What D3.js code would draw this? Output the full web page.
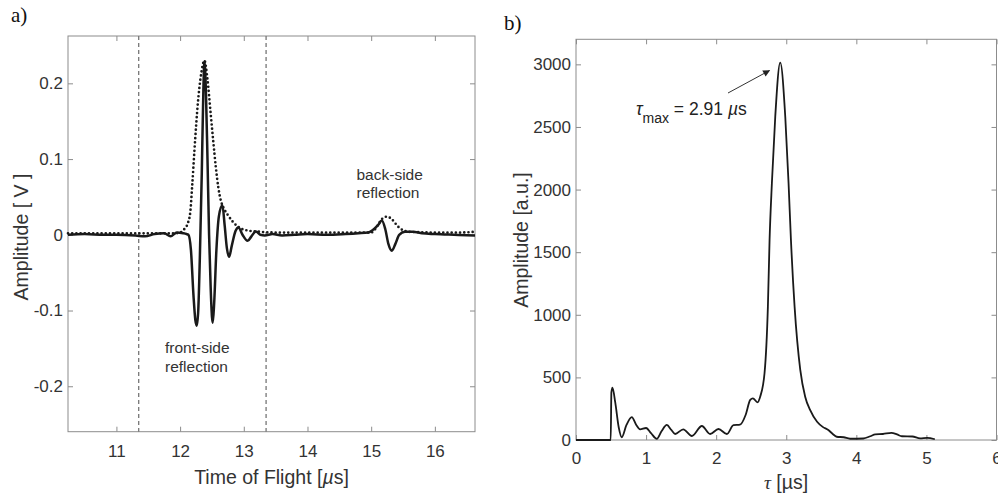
<!DOCTYPE html>
<html>
<head>
<meta charset="utf-8">
<script src="https://cdn.jsdelivr.net/npm/d3@7"></script>
<style>
  body { margin: 0; background: #fff; }
  svg { display: block; font-family: "Liberation Sans", Arial, sans-serif; }
  .tick text { fill: #333; font-size: 17px; }
  .tick line { stroke: #8c8c8c; }
</style>
</head>
<body>
<div id="chart"></div>
<script>
// a) time of flight signal [µs, V]
const tofTime = [10.24, 10.5, 10.8, 11.0, 11.3, 11.45, 11.6, 11.75, 11.85, 11.95, 12.05, 12.1, 12.13,
  12.17, 12.21, 12.24, 12.262, 12.285, 12.31, 12.34, 12.365, 12.382, 12.405, 12.43, 12.455, 12.48, 12.5,
  12.513, 12.535, 12.57, 12.61, 12.664, 12.7, 12.735, 12.77, 12.81, 12.87, 12.916, 12.98, 13.06, 13.12,
  13.19, 13.26, 13.33, 13.45, 13.6, 13.8, 14.0, 14.3, 14.6, 14.8, 14.95, 15.05, 15.11, 15.168, 15.22,
  15.27, 15.325, 15.38, 15.44, 15.53, 15.65, 15.8, 16.0, 16.3, 16.63];
const tofSignal = [0.000, 0.001, 0.000, 0.000, -0.001, -0.002, 0.001, 0.002, -0.002, 0.003, 0.002, 0.001, 0.000,
  -0.02, -0.08, -0.113, -0.120, -0.10, -0.03, 0.08, 0.19, 0.229, 0.19, 0.10, 0.0, -0.07, -0.108,
  -0.116, -0.09, -0.02, 0.025, 0.039, 0.012, -0.018, -0.029, -0.015, 0.005, 0.0097, 0.0, -0.008, -0.002,
  0.0044, 0.0, -0.001, 0.001, -0.001, 0.0, 0.001, 0.0, 0.001, 0.002, 0.003, 0.008, 0.013, 0.019, 0.008,
  -0.012, -0.021, -0.012, 0.0, 0.004, 0.004, 0.002, 0.001, 0.000, -0.001];

const envTime = [10.24, 11.0, 11.9, 12.0, 12.07, 12.12, 12.16, 12.19, 12.235, 12.28, 12.33, 12.382, 12.43,
  12.48, 12.52, 12.56, 12.6, 12.64, 12.68, 12.75, 12.82, 12.89, 12.96, 13.04, 13.25, 13.5, 14.0, 14.5,
  15.0, 15.1, 15.17, 15.25, 15.33, 15.42, 15.5, 15.6, 16.0, 16.4, 16.63];
const envSignal = [0.002, 0.002, 0.002, 0.003, 0.008, 0.015, 0.03, 0.065, 0.124, 0.175, 0.212, 0.230, 0.205,
  0.16, 0.124, 0.09, 0.0625, 0.045, 0.036, 0.026, 0.018, 0.012, 0.008, 0.006, 0.004, 0.003, 0.003, 0.003,
  0.003, 0.012, 0.021, 0.024, 0.020, 0.011, 0.006, 0.004, 0.003, 0.003, 0.004];

const gateTimes = [11.35, 13.35];

// b) correlation vs tau [µs, a.u.]
const tauValues = [0, 0.495, 0.505, 0.52, 0.56, 0.61, 0.653, 0.72, 0.796, 0.86, 0.914, 1.0, 1.07, 1.153,
  1.22, 1.296, 1.36, 1.414, 1.53, 1.653, 1.796, 1.914, 2.033, 2.153, 2.247, 2.34, 2.42, 2.486, 2.524,
  2.59, 2.63, 2.69, 2.738, 2.762, 2.795, 2.843, 2.914, 2.986, 3.033, 3.067, 3.119, 3.2, 3.27, 3.34,
  3.44, 3.52, 3.6, 3.66, 3.72, 3.82, 3.91, 4.1, 4.2, 4.27, 4.38, 4.5, 4.58, 4.65, 4.8, 4.91, 5.01, 5.12];
const corrValues = [0, 0, 380, 418, 300, 100, 22, 120, 183, 120, 85, 96, 55, 10,
  70, 120, 80, 48, 85, 32, 112, 48, 88, 48, 118, 122, 200, 320, 333,
  301, 350, 533, 1065, 1597, 2050, 2582, 3014, 2582, 2050, 1597, 1065, 560, 346, 240,
  146, 105, 80, 50, 26, 22, 10, 12, 30, 45, 48, 57, 45, 30, 28, 13, 17, 6];

const xTicksA = [11, 12, 13, 14, 15, 16];
const yTicksA = [-0.2, -0.1, 0, 0.1, 0.2];
const yLabelsA = ["-0.2", "-0.1", "0", "0.1", "0.2"];
const xTicksB = [0, 1, 2, 3, 4, 5, 6];
const yTicksB = [0, 500, 1000, 1500, 2000, 2500, 3000];

const svg = d3.select("#chart").append("svg")
  .attr("width", 998)
  .attr("height", 497);

const boxColor = "#8c8c8c";
const lineColor = "#1a1a1a";

function drawFrame(x, y, xTicks, yTicks, yLabels, xPad) {
  const [x0, x1] = x.range();
  const [y0, y1] = y.range();
  svg.append("g")
    .attr("transform", `translate(0,${y0})`)
    .call(d3.axisBottom(x).tickValues(xTicks).tickSize(-5).tickPadding(xPad).tickFormat(d3.format("d")))
    .call(g => g.select(".domain").remove());
  svg.append("g")
    .attr("transform", `translate(0,${y1})`)
    .call(d3.axisTop(x).tickValues(xTicks).tickSize(-5).tickFormat(""))
    .call(g => g.select(".domain").remove());
  svg.append("g")
    .attr("transform", `translate(${x0},0)`)
    .call(d3.axisLeft(y).tickValues(yTicks).tickSize(-5).tickPadding(5)
      .tickFormat((d, i) => yLabels[i]))
    .call(g => g.select(".domain").remove());
  svg.append("g")
    .attr("transform", `translate(${x1},0)`)
    .call(d3.axisRight(y).tickValues(yTicks).tickSize(-5).tickFormat(""))
    .call(g => g.select(".domain").remove());
  svg.append("rect")
    .attr("x", x0).attr("y", y1)
    .attr("width", x1 - x0).attr("height", y0 - y1)
    .attr("fill", "none")
    .attr("stroke", boxColor)
    .attr("stroke-width", 1);
}

// ---------- panel a ----------
const xA = d3.scaleLinear().domain([10.24, 16.63]).range([68, 475]);
const yA = d3.scaleLinear().domain([-0.26, 0.2625]).range([431.7, 36]);

drawFrame(xA, yA, xTicksA, yTicksA, yLabelsA, 13);

svg.selectAll(".gate")
  .data(gateTimes)
  .enter().append("line")
  .attr("x1", d => xA(d)).attr("x2", d => xA(d))
  .attr("y1", 36).attr("y2", 431.7)
  .attr("stroke", "#777")
  .attr("stroke-width", 1.3)
  .attr("stroke-dasharray", "4,3");

const lineA = d3.line()
  .x(d => xA(d[0]))
  .y(d => yA(d[1]))
  .curve(d3.curveMonotoneX);

svg.append("path")
  .datum(envTime.map((t, i) => [t, envSignal[i]]))
  .attr("fill", "none")
  .attr("stroke", lineColor)
  .attr("stroke-width", 2.7)
  .attr("stroke-linecap", "round")
  .attr("stroke-dasharray", "0,4.2")
  .attr("d", lineA);

svg.append("path")
  .datum(tofTime.map((t, i) => [t, tofSignal[i]]))
  .attr("fill", "none")
  .attr("stroke", lineColor)
  .attr("stroke-width", 2.5)
  .attr("stroke-linejoin", "round")
  .attr("d", lineA);

const noteA = svg.append("g").attr("font-size", 15.5).attr("fill", "#333");
noteA.append("text").attr("x", 356.5).attr("y", 180).text("back-side");
noteA.append("text").attr("x", 356.5).attr("y", 198).text("reflection");
noteA.append("text").attr("x", 165).attr("y", 353).text("front-side");
noteA.append("text").attr("x", 165).attr("y", 372).text("reflection");

svg.append("text")
  .attr("x", 271.5).attr("y", 484)
  .attr("text-anchor", "middle")
  .attr("font-size", 19.5).attr("fill", "#333")
  .html('Time of Flight [<tspan font-style="italic">µ</tspan>s]');

svg.append("text")
  .attr("transform", "translate(28,237) rotate(-90)")
  .attr("text-anchor", "middle")
  .attr("font-size", 19.5).attr("fill", "#333")
  .text("Amplitude [ V ]");

svg.append("text")
  .attr("x", 11).attr("y", 22)
  .attr("font-family", "Liberation Serif, Times New Roman, serif")
  .attr("font-size", 21).attr("fill", "#111")
  .text("a)");

// ---------- panel b ----------
const xB = d3.scaleLinear().domain([0, 6]).range([576, 996.5]);
const yB = d3.scaleLinear().domain([0, 3200]).range([440, 39.3]);

drawFrame(xB, yB, xTicksB, yTicksB, yTicksB.map(String), 12);

const lineB = d3.line()
  .x((d, i) => xB(tauValues[i]))
  .y(d => yB(d))
  .curve(d3.curveMonotoneX);

svg.append("path")
  .datum(corrValues)
  .attr("fill", "none")
  .attr("stroke", lineColor)
  .attr("stroke-width", 1.8)
  .attr("stroke-linejoin", "round")
  .attr("d", lineB);

svg.append("defs").append("marker")
  .attr("id", "arrow")
  .attr("viewBox", "0 0 10 10")
  .attr("refX", 9).attr("refY", 5)
  .attr("markerWidth", 9).attr("markerHeight", 7)
  .attr("markerUnits", "userSpaceOnUse")
  .attr("orient", "auto")
  .append("path")
  .attr("d", "M0,0 L10,5 L0,10 z")
  .attr("fill", "#222");

svg.append("line")
  .attr("x1", 728).attr("y1", 93)
  .attr("x2", 769.5).attr("y2", 70.5)
  .attr("stroke", "#333")
  .attr("stroke-width", 1)
  .attr("marker-end", "url(#arrow)");

const noteB = svg.append("text")
  .attr("x", 636).attr("y", 115)
  .attr("font-size", 17.5).attr("fill", "#222");
noteB.append("tspan").attr("font-style", "italic").text("τ");
noteB.append("tspan").attr("font-size", 14).attr("dy", 8).text("max");
noteB.append("tspan").attr("dy", -8).text(" = 2.91 ");
noteB.append("tspan").attr("font-style", "italic").text("µ");
noteB.append("tspan").text("s");

svg.append("text")
  .attr("x", 786).attr("y", 489)
  .attr("text-anchor", "middle")
  .attr("font-size", 19.5).attr("fill", "#333")
  .html('<tspan font-style="italic" font-family="Liberation Serif, serif">τ</tspan> [µs]');

svg.append("text")
  .attr("transform", "translate(528,240) rotate(-90)")
  .attr("text-anchor", "middle")
  .attr("font-size", 19.5).attr("fill", "#333")
  .text("Amplitude [a.u.]");

svg.append("text")
  .attr("x", 504).attr("y", 30)
  .attr("font-family", "Liberation Serif, Times New Roman, serif")
  .attr("font-size", 21).attr("fill", "#111")
  .text("b)");
</script>
</body>
</html>
